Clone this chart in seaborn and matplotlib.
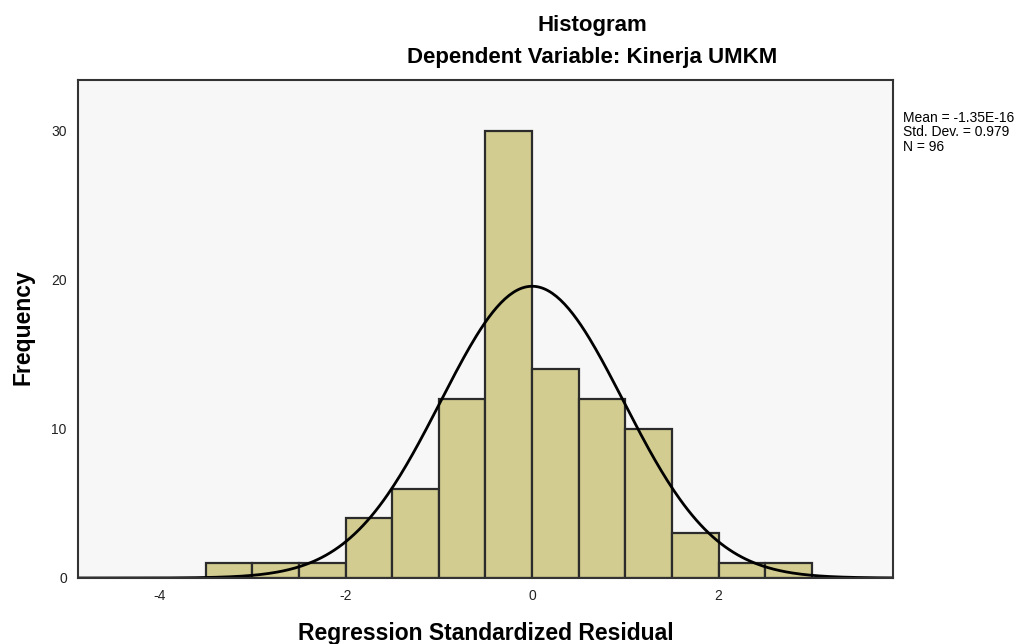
import numpy as np
import pandas as pd
import seaborn as sns
import matplotlib.pyplot as plt

# Histogram of standardized residuals (bin width 0.5)
bin_edges = [-3.5, -3.0, -2.5, -2.0, -1.5, -1.0, -0.5, 0.0, 0.5, 1.0, 1.5, 2.0, 2.5, 3.0]
bin_counts = [1, 1, 1, 4, 6, 12, 30, 14, 12, 10, 3, 1, 1]
mean_val = -1.35e-16
std_val = 0.979
n_obs = 96
x_ticks = [-4, -2, 0, 2]
y_ticks = [0, 10, 20, 30]

sns.set_style("white")
plt.rcParams['font.family'] = ['Liberation Sans', 'DejaVu Sans']
plt.rcParams['axes.unicode_minus'] = False
plt.rcParams['text.color'] = 'black'

edges = np.array(bin_edges)
centers = (edges[:-1] + edges[1:]) / 2
df = pd.DataFrame({"resid": centers, "count": bin_counts})

fig = plt.figure(figsize=(10.3, 6.44), dpi=100)
ax = fig.add_axes([0.0757, 0.1025, 0.7913, 0.7735])
ax.set_facecolor("#F7F7F7")

sns.histplot(data=df, x="resid", weights="count", bins=bin_edges, ax=ax,
             color="#D2CC90", edgecolor="#2b2b2b", linewidth=1.6, alpha=1)

# fitted normal curve
bw = edges[1] - edges[0]
xs = np.linspace(-4.9, 3.9, 400)
ys = n_obs * bw * np.exp(-0.5 * ((xs - mean_val) / std_val) ** 2) / (std_val * np.sqrt(2 * np.pi))
sns.lineplot(x=xs, y=ys, ax=ax, color="black", linewidth=2)

ax.set_xlim(-4.87, 3.87)
ax.set_ylim(0, 33.4)
ax.set_xticks(x_ticks)
ax.set_yticks(y_ticks)
ax.tick_params(axis="both", length=0, labelsize=10, pad=8, labelcolor="#222222")
for s in ax.spines.values():
    s.set_color("#333333")
    s.set_linewidth(1.5)

ax.set_xlabel("")
ax.set_ylabel("")
fig.text(0.472, 0.017, "Regression Standardized Residual", ha="center", va="center",
         fontsize=16.5, fontweight="bold")
fig.text(0.022, 0.492, "Frequency", ha="center", va="center", rotation=90,
         fontsize=16.5, fontweight="bold")

fig.text(0.575, 0.961, "Histogram", ha="center", va="center", fontsize=16, fontweight="bold")
fig.text(0.575, 0.910, "Dependent Variable: Kinerja UMKM", ha="center", va="center",
         fontsize=16, fontweight="bold")

stats = f"Mean = -1.35E-16\nStd. Dev. = {std_val}\nN = {n_obs}"
fig.text(0.877, 0.828, stats, ha="left", va="top", fontsize=10, linespacing=1.05)

fig.savefig("out.png", dpi=100)
